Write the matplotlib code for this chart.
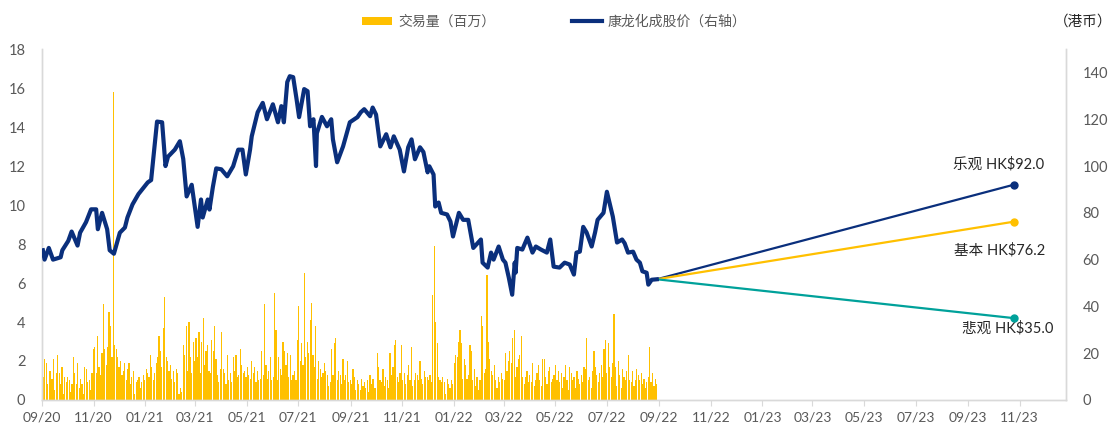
import matplotlib
matplotlib.use("Agg")
import matplotlib.pyplot as plt
import matplotlib.dates as mdates
from matplotlib.patches import Patch
from matplotlib.lines import Line2D
import pandas as pd

plt.rcParams['font.family'] = ['Lato', 'Noto Sans CJK SC', 'DejaVu Sans']

# daily volume (millions), 18 readings per month, Sep 2020 - Aug 2022
volume = [
    1.0, 1.2, 2.1, 1.9, 0.8, 1.5, 1.5, 1.1, 2.1, 0.5, 1.4, 2.3, 1.4, 0.8, 1.7, 0.3, 1.2, 0.9,   # 09/20
    1.2, 1.0, 0.4, 0.8, 2.2, 1.4, 0.8, 1.9, 0.6, 1.1, 0.8, 0.3, 1.7, 1.6, 0.9, 1.0, 0.5, 1.4,   # 10/20
    2.6, 2.7, 1.4, 3.3, 1.7, 1.3, 2.4, 4.9, 2.6, 1.8, 2.7, 4.5, 3.8, 2.2, 15.8, 2.8, 2.6, 2.2,  # 11/20
    1.7, 2.0, 1.3, 1.5, 1.9, 1.0, 1.6, 1.9, 0.8, 1.2, 1.5, 0.3, 0.9, 1.0, 1.2, 0.6, 0.9, 1.3,   # 12/20
    1.0, 1.6, 1.4, 1.2, 2.3, 1.7, 1.0, 1.4, 1.9, 2.2, 3.3, 2.5, 1.7, 3.7, 5.3, 2.2, 2.0, 1.5,   # 01/21
    1.8, 1.1, 1.5, 0.9, 1.6, 1.4, 0.3, 0.6, 0.4, 2.8, 2.3, 3.8, 1.5, 4.0, 2.2, 1.4, 3.0, 2.0,   # 02/21
    3.2, 2.2, 3.5, 1.4, 3.0, 4.2, 1.8, 2.5, 2.8, 1.5, 1.4, 3.1, 2.5, 3.8, 2.1, 1.3, 0.9, 1.6,   # 03/21
    3.5, 1.6, 1.4, 0.8, 2.3, 1.0, 1.4, 0.9, 2.2, 1.5, 2.3, 1.2, 1.3, 2.6, 1.8, 1.4, 1.5, 1.2,   # 04/21
    1.7, 1.3, 1.1, 2.0, 1.4, 1.7, 0.9, 1.5, 1.0, 1.1, 2.5, 1.3, 4.9, 1.8, 1.1, 1.5, 2.2, 1.0,   # 05/21
    1.2, 5.5, 3.6, 1.0, 2.2, 1.6, 1.3, 3.0, 2.5, 1.8, 2.4, 1.2, 2.3, 1.0, 1.3, 1.5, 1.0, 3.1,   # 06/21
    4.8, 2.0, 2.9, 1.8, 6.5, 2.2, 3.0, 2.4, 4.1, 5.0, 2.3, 1.7, 3.8, 1.1, 2.0, 1.6, 1.2, 1.4,   # 07/21
    1.9, 1.5, 1.3, 0.7, 0.9, 2.6, 1.3, 2.9, 3.2, 1.0, 1.5, 1.3, 0.8, 2.1, 1.0, 1.3, 2.0, 0.9,   # 08/21
    1.0, 0.8, 1.6, 1.2, 0.5, 1.0, 0.8, 0.5, 1.1, 0.7, 0.9, 0.6, 1.0, 0.4, 1.3, 0.8, 1.1, 0.6,   # 09/21
    0.6, 2.4, 1.7, 1.0, 0.9, 1.6, 0.7, 1.2, 1.0, 0.6, 2.4, 1.3, 1.7, 2.8, 3.1, 1.2, 0.9, 1.4,   # 10/21
    2.8, 1.0, 1.4, 0.8, 1.3, 1.8, 1.0, 2.7, 0.7, 1.0, 1.4, 1.3, 1.0, 2.0, 1.1, 0.8, 1.5, 1.2,   # 11/21
    1.2, 1.0, 1.3, 0.9, 5.4, 7.9, 4.0, 2.9, 1.2, 1.0, 0.9, 1.2, 0.9, 0.3, 1.1, 0.8, 0.6, 1.0,   # 12/21
    0.8, 1.9, 2.3, 2.2, 3.0, 3.6, 2.9, 1.1, 2.1, 1.8, 1.1, 1.3, 2.8, 2.5, 1.0, 1.6, 0.7, 1.2,   # 01/22
    0.5, 1.0, 4.3, 3.8, 1.4, 1.6, 6.4, 3.0, 2.1, 1.5, 1.3, 1.8, 1.0, 0.6, 1.2, 0.9, 1.4, 1.1,   # 02/22
    1.0, 2.4, 1.5, 2.0, 2.5, 1.9, 3.2, 3.6, 1.2, 1.7, 2.1, 2.3, 3.3, 1.2, 0.8, 1.2, 1.5, 0.9,   # 03/22
    1.3, 0.9, 1.9, 0.7, 1.0, 1.4, 1.8, 1.0, 0.7, 2.1, 2.1, 1.2, 0.8, 1.5, 1.7, 0.9, 1.1, 1.3,   # 04/22
    1.8, 1.0, 1.5, 0.9, 1.4, 0.6, 1.2, 1.8, 1.0, 0.5, 1.7, 1.4, 1.0, 1.2, 0.6, 1.5, 1.1, 0.8,   # 05/22
    1.3, 0.9, 1.7, 1.6, 3.2, 1.0, 1.2, 0.6, 1.5, 2.5, 1.7, 1.3, 0.9, 1.4, 1.8, 1.2, 2.6, 3.1,   # 06/22
    1.4, 2.9, 1.7, 1.2, 1.9, 4.4, 1.7, 0.7, 2.0, 1.3, 0.6, 1.6, 1.2, 1.0, 1.5, 2.3, 1.0, 0.9,   # 07/22
    1.5, 0.7, 1.0, 1.6, 1.3, 1.0, 1.4, 0.8, 1.1, 0.6, 0.9, 1.2, 2.7, 0.9, 1.4, 0.7, 1.1, 0.8,   # 08/22
]
vol_start, vol_end = '2020-09-01', '2022-08-29'

price_dates = [
    '2020-09-02', '2020-09-04', '2020-09-09', '2020-09-14', '2020-09-23', '2020-09-25',
    '2020-10-02', '2020-10-06', '2020-10-13', '2020-10-16', '2020-10-23', '2020-10-29',
    '2020-11-04', '2020-11-06', '2020-11-11', '2020-11-17', '2020-11-20', '2020-11-25',
    '2020-12-02', '2020-12-08', '2020-12-11', '2020-12-17', '2020-12-24',
    '2021-01-04', '2021-01-08', '2021-01-15', '2021-01-21', '2021-01-25', '2021-01-28',
    '2021-02-05', '2021-02-11', '2021-02-15', '2021-02-19', '2021-02-25',
    '2021-03-04', '2021-03-08', '2021-03-10', '2021-03-16', '2021-03-18', '2021-03-22', '2021-03-26',
    '2021-04-01', '2021-04-08', '2021-04-15', '2021-04-21', '2021-04-26', '2021-04-30',
    '2021-05-05', '2021-05-07', '2021-05-14', '2021-05-20', '2021-05-25',
    '2021-06-01', '2021-06-07', '2021-06-11', '2021-06-14', '2021-06-18', '2021-06-21', '2021-06-25', '2021-06-29',
    '2021-07-02', '2021-07-08', '2021-07-12', '2021-07-15', '2021-07-19', '2021-07-22', '2021-07-23', '2021-07-29',
    '2021-08-04', '2021-08-09', '2021-08-11', '2021-08-16', '2021-08-23', '2021-08-31',
    '2021-09-09', '2021-09-13', '2021-09-17', '2021-09-24', '2021-09-27',
    '2021-10-01', '2021-10-06', '2021-10-13', '2021-10-18', '2021-10-22', '2021-10-29',
    '2021-11-03', '2021-11-08', '2021-11-12', '2021-11-16', '2021-11-22', '2021-11-26',
    '2021-12-01', '2021-12-03', '2021-12-08', '2021-12-10', '2021-12-14', '2021-12-17', '2021-12-24', '2021-12-28', '2021-12-31',
    '2022-01-07', '2022-01-12', '2022-01-18', '2022-01-24',
    '2022-02-02', '2022-02-04', '2022-02-10', '2022-02-14', '2022-02-17', '2022-02-23', '2022-02-28',
    '2022-03-03', '2022-03-07', '2022-03-11', '2022-03-14', '2022-03-15', '2022-03-17', '2022-03-23', '2022-03-29',
    '2022-04-04', '2022-04-08', '2022-04-14', '2022-04-21', '2022-04-25', '2022-04-29',
    '2022-05-06', '2022-05-12', '2022-05-18', '2022-05-23', '2022-05-26', '2022-05-30',
    '2022-06-03', '2022-06-07', '2022-06-13', '2022-06-17', '2022-06-20', '2022-06-27',
    '2022-07-01', '2022-07-04', '2022-07-08', '2022-07-13', '2022-07-19', '2022-07-22', '2022-07-26',
    '2022-08-01', '2022-08-05', '2022-08-09', '2022-08-12', '2022-08-17', '2022-08-19', '2022-08-23', '2022-08-29',
]
price_vals = [
    64, 60, 65, 60, 61, 64,
    68, 72, 66, 71.5, 76, 81.5,
    81.5, 73, 80, 73, 64, 62.5,
    71.5, 73.7, 78, 83.6, 88,
    93, 94, 119, 118.7, 100, 104,
    107, 110.6, 103, 87, 92,
    74, 85.7, 78, 85.7, 81.4, 91, 99,
    98.6, 95.6, 99.9, 107, 107, 96.4,
    107, 112.7, 123, 127, 120,
    126.4, 118.7, 125.6, 118.7, 135.9, 138.4, 138, 128.6,
    120.9, 132.9, 132, 117, 120, 100, 114, 121,
    117, 120, 111.4, 101.6, 108.4, 118.7,
    120.9, 123, 124.3, 121.3, 125,
    122, 108.4, 113.6, 108, 112.7, 107,
    97.7, 108, 111.4, 102.9, 108, 106,
    97.3, 99.9, 96.4, 82.7, 84.4, 80, 79.3, 76.3, 69.9,
    80, 77, 77, 65,
    68.6, 58.7, 56.6, 63, 60, 65.6, 60,
    58.7, 52.3, 45, 58.7, 54.4, 65, 64.3, 69.4,
    63, 65.6, 64.3, 63, 68.6, 57,
    56.6, 58.7, 57.9, 53.6, 63, 63.4,
    74, 71.6, 65.6, 71.6, 77, 80,
    89, 84.4, 78.4, 67.3, 68.6, 67, 63,
    63.4, 60, 58.7, 55, 54.4, 49.3, 51.4, 51.6,
]

# target price scenarios
target_date = '2023-10-25'
scenarios = ['乐观', '基本', '悲观']
targets = [92.0, 76.2, 35.0]
scen_colors = ['#0A2F7C', '#FFC000', '#00A19A']
label_offsets = [(-15, 21), (-14, -29), (-6, -10)]

navy = '#0A2F7C'
gold = '#FFC000'
grey = '#595959'
spine_c = '#D9D9D9'

fig = plt.figure(figsize=(11.15, 4.23), dpi=100)
ax = fig.add_axes([0.0377, 0.0544, 0.9184, 0.8296])
ax2 = ax.twinx()

vol_dates = pd.date_range(vol_start, vol_end, periods=len(volume))
ax.bar(vol_dates, volume, width=1.4, color=gold, linewidth=0)

pdates = pd.to_datetime(price_dates)
ax2.plot(pdates, price_vals, color=navy, lw=3.0, solid_joinstyle='round', zorder=3)

start_d = pdates[-1]
start_p = price_vals[-1]
for name, tgt, c, off in zip(scenarios, targets, scen_colors, label_offsets):
    td = pd.Timestamp(target_date)
    ax2.plot([start_d, td], [start_p, tgt], color=c, lw=1.6, zorder=2)
    ax2.plot([td], [tgt], 'o', color=c, ms=5, zorder=4)
    ax2.annotate(f'{name} HK${tgt:.1f}', (td, tgt), xytext=off, textcoords='offset pixels',
                 ha='center', va='center', fontsize=10.5, color='#262626')

ax.set_ylim(0, 18)
ax.set_yticks(range(0, 19, 2))
ax2.set_ylim(0, 150)
ax2.set_yticks(range(0, 141, 20))
ax.set_xlim(pd.Timestamp('2020-09-01'), pd.Timestamp('2023-12-26'))
ax.xaxis.set_major_locator(mdates.MonthLocator(bymonth=[1, 3, 5, 7, 9, 11]))
ax.xaxis.set_major_formatter(mdates.DateFormatter('%m/%y'))

for a in (ax, ax2):
    a.spines['top'].set_visible(False)
    for s in ('left', 'right', 'bottom'):
        a.spines[s].set_color(spine_c)
        a.spines[s].set_linewidth(1.0)
ax.tick_params(axis='x', colors=grey, labelsize=10, length=4, color=spine_c, pad=4)
ax.tick_params(axis='y', colors=grey, labelsize=10.5, length=0, pad=12)
ax2.tick_params(axis='y', colors=grey, labelsize=10.5, length=0, pad=12)

handles = [Patch(facecolor=gold, edgecolor='none', label='交易量（百万）'),
           Line2D([], [], color=navy, lw=3, label='康龙化成股价（右轴）')]
fig.legend(handles=handles, loc='center', bbox_to_anchor=(0.497, 0.95), ncol=2, frameon=False,
           fontsize=10, labelcolor=grey, columnspacing=5.5, handlelength=2.2, handletextpad=0.4,
           handleheight=0.5)
fig.text(0.998, 0.95, '（港币）', ha='right', va='center', fontsize=10.5, color='#262626')

fig.savefig('out.png', dpi=100)
